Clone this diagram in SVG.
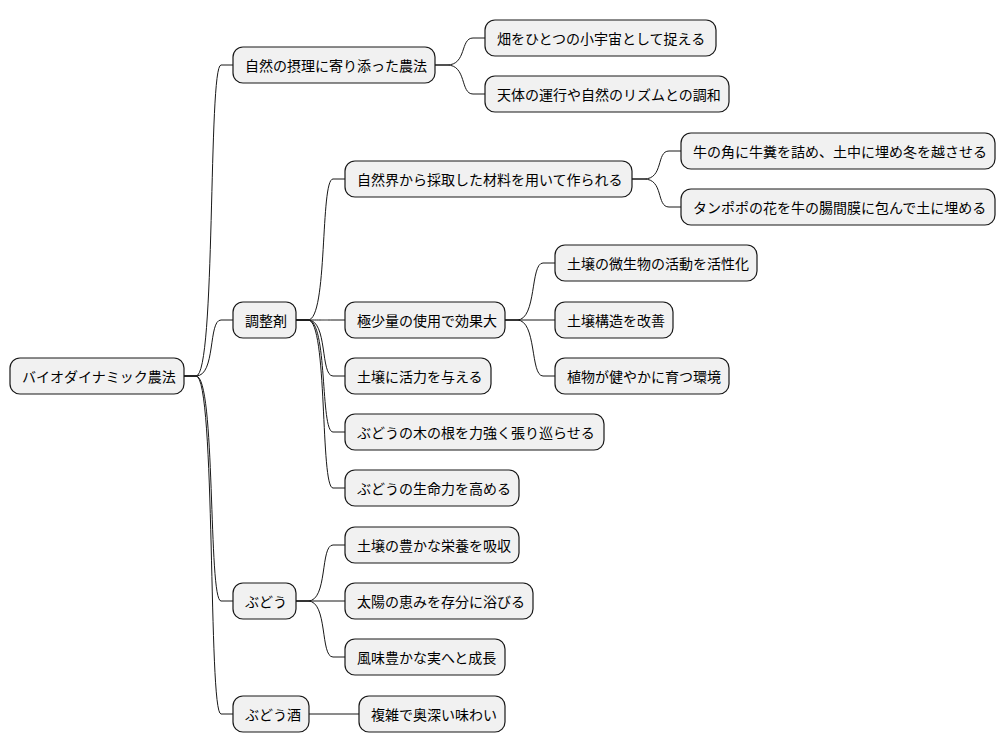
<svg xmlns="http://www.w3.org/2000/svg" width="1006" height="752" viewBox="0 0 1006 752">
<style>
.n rect{fill:#F1F1F1;stroke:#181818;stroke-width:1.2}
.n text{font-family:"Noto Sans CJK JP","Noto Sans",sans-serif;font-size:14px;fill:#000;dominant-baseline:central}
.c path{fill:none;stroke:#181818;stroke-width:1}
</style>
<rect width="1006" height="752" fill="#fff"/>
<g class="c">
<path d="M184,376 L196,376 C216,376 208,65 221,65 L233,65"/>
<path d="M184,376 L196,376 C216,376 208,320 221,320 L233,320"/>
<path d="M184,376 L196,376 C216,376 208,601 221,601 L233,601"/>
<path d="M184,376 L196,376 C216,376 208,714 221,714 L233,714"/>
<path d="M435,65 L447,65 C467,65 460,38 473,38 L485,38"/>
<path d="M435,65 L447,65 C467,65 460,94 473,94 L485,94"/>
<path d="M296,320 L308,320 C328,320 320,179 333,179 L345,179"/>
<path d="M296,320 L308,320 C328,320 320,320 333,320 L345,320"/>
<path d="M296,320 L308,320 C328,320 320,376 333,376 L345,376"/>
<path d="M296,320 L308,320 C328,320 320,432 333,432 L345,432"/>
<path d="M296,320 L308,320 C328,320 320,488 333,488 L345,488"/>
<path d="M632,179 L644,179 C664,179 656,151 669,151 L681,151"/>
<path d="M632,179 L644,179 C664,179 656,207 669,207 L681,207"/>
<path d="M505,320 L517,320 C537,320 530,263 543,263 L555,263"/>
<path d="M505,320 L555,320"/>
<path d="M505,320 L517,320 C537,320 530,376 543,376 L555,376"/>
<path d="M296,601 L308,601 C328,601 320,545 333,545 L345,545"/>
<path d="M296,601 L345,601"/>
<path d="M296,601 L308,601 C328,601 320,657 333,657 L345,657"/>
<path d="M309,714 L359,714"/>
</g>
<g id="root" class="n"><rect x="10" y="358" width="174" height="36" rx="10"/><text x="22" y="376">バイオダイナミック農法</text></g>
<g id="n1" class="n"><rect x="233" y="47" width="202" height="36" rx="10"/><text x="245" y="65">自然の摂理に寄り添った農法</text></g>
<g id="n2" class="n"><rect x="233" y="302" width="63" height="36" rx="10"/><text x="245" y="320">調整剤</text></g>
<g id="n3" class="n"><rect x="233" y="583" width="63" height="36" rx="10"/><text x="245" y="601">ぶどう</text></g>
<g id="n4" class="n"><rect x="233" y="696" width="76" height="36" rx="10"/><text x="245" y="714">ぶどう酒</text></g>
<g id="n11" class="n"><rect x="485" y="20" width="231" height="36" rx="10"/><text x="497" y="38">畑をひとつの小宇宙として捉える</text></g>
<g id="n12" class="n"><rect x="485" y="76" width="244" height="36" rx="10"/><text x="497" y="94">天体の運行や自然のリズムとの調和</text></g>
<g id="n21" class="n"><rect x="345" y="161" width="287" height="36" rx="10"/><text x="357" y="179">自然界から採取した材料を用いて作られる</text></g>
<g id="n22" class="n"><rect x="345" y="302" width="160" height="36" rx="10"/><text x="357" y="320">極少量の使用で効果大</text></g>
<g id="n23" class="n"><rect x="345" y="358" width="146" height="36" rx="10"/><text x="357" y="376">土壌に活力を与える</text></g>
<g id="n24" class="n"><rect x="345" y="414" width="259" height="36" rx="10"/><text x="357" y="432">ぶどうの木の根を力強く張り巡らせる</text></g>
<g id="n25" class="n"><rect x="345" y="470" width="174" height="36" rx="10"/><text x="357" y="488">ぶどうの生命力を高める</text></g>
<g id="n211" class="n"><rect x="681" y="133" width="314" height="36" rx="10"/><text x="693" y="151">牛の角に牛糞を詰め、土中に埋め冬を越させる</text></g>
<g id="n212" class="n"><rect x="681" y="189" width="314" height="36" rx="10"/><text x="693" y="207">タンポポの花を牛の腸間膜に包んで土に埋める</text></g>
<g id="n221" class="n"><rect x="555" y="245" width="202" height="36" rx="10"/><text x="567" y="263">土壌の微生物の活動を活性化</text></g>
<g id="n222" class="n"><rect x="555" y="302" width="118" height="36" rx="10"/><text x="567" y="320">土壌構造を改善</text></g>
<g id="n223" class="n"><rect x="555" y="358" width="174" height="36" rx="10"/><text x="567" y="376">植物が健やかに育つ環境</text></g>
<g id="n31" class="n"><rect x="345" y="527" width="174" height="36" rx="10"/><text x="357" y="545">土壌の豊かな栄養を吸収</text></g>
<g id="n32" class="n"><rect x="345" y="583" width="188" height="36" rx="10"/><text x="357" y="601">太陽の恵みを存分に浴びる</text></g>
<g id="n33" class="n"><rect x="345" y="639" width="160" height="36" rx="10"/><text x="357" y="657">風味豊かな実へと成長</text></g>
<g id="n41" class="n"><rect x="359" y="696" width="146" height="36" rx="10"/><text x="371" y="714">複雑で奥深い味わい</text></g>
</svg>
